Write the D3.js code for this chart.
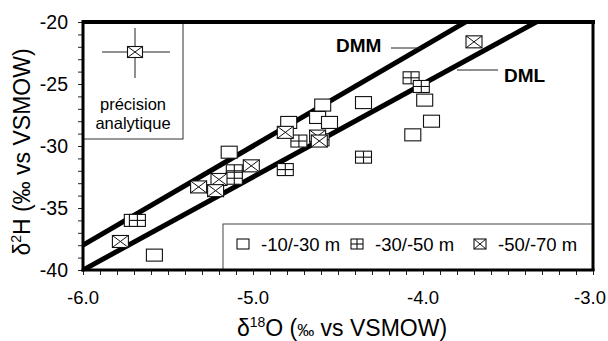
<!DOCTYPE html>
<html>
<head>
<meta charset="utf-8">
<script src="https://cdn.jsdelivr.net/npm/d3@7"></script>
<style>
  body { margin: 0; background: #fff; }
  svg { font-family: "Liberation Sans", Arial, sans-serif; }
</style>
</head>
<body>
<div id="chart"></div>
<script>
// Data: [d18O, d2H]
const shallow = [ // -10/-30 m
  [-5.58, -38.8], [-5.71, -36.0], [-5.14, -30.5], [-4.59, -26.7], [-4.35, -26.5],
  [-4.62, -27.7], [-4.55, -28.1], [-4.79, -28.1], [-3.99, -26.3], [-3.95, -28.0],
  [-4.06, -29.1]
]
const middle = [ // -30/-50 m
  [-5.68, -36.0], [-5.11, -32.0], [-5.11, -32.6], [-4.73, -29.6], [-4.35, -30.9],
  [-4.81, -31.9], [-4.07, -24.5], [-4.01, -25.2], [-4.60, -29.5]
]
const deep = [ // -50/-70 m
  [-5.78, -37.7], [-5.01, -31.6], [-5.20, -32.7], [-5.32, -33.3], [-5.22, -33.6],
  [-4.81, -28.9], [-4.62, -29.2], [-4.61, -29.6], [-3.70, -21.6]
]
const xTicks = [-6.0, -5.0, -4.0, -3.0]
const yTicks = [-20, -25, -30, -35, -40]
// meteoric lines: slope, intercept
const dmm = { name: "DMM", slope: 8, intercept: 10 }
const dml = { name: "DML", slope: 7.5, intercept: 5 }
const legendItems = [
  { type: "open", label: "-10/-30 m" },
  { type: "grid", label: "-30/-50 m" },
  { type: "cross", label: "-50/-70 m" }
]

const width = 608
const height = 341
const svg = d3.select("#chart").append("svg").attr("width", width).attr("height", height)

const x = d3.scaleLinear().domain([-6, -3]).range([83, 593])
const y = d3.scaleLinear().domain([-40, -20]).range([270, 22])

// clip for the lines
svg.append("clipPath").attr("id", "plot")
  .append("rect").attr("x", 83).attr("y", 22).attr("width", 510).attr("height", 248)

// Marker drawing
function marker(g, type, w, h) {
  g.append("rect")
    .attr("x", -w / 2).attr("y", -h / 2).attr("width", w).attr("height", h)
    .attr("fill", "#fff").attr("stroke", "#111").attr("stroke-width", 1.1)
  if (type === "grid") {
    g.append("line").attr("x1", 0).attr("x2", 0).attr("y1", -h / 2).attr("y2", h / 2)
      .attr("stroke", "#111").attr("stroke-width", 1.1)
    g.append("line").attr("x1", -w / 2).attr("x2", w / 2).attr("y1", 0).attr("y2", 0)
      .attr("stroke", "#111").attr("stroke-width", 1.1)
  }
  if (type === "cross") {
    g.append("line").attr("x1", -w / 2).attr("x2", w / 2).attr("y1", -h / 2).attr("y2", h / 2)
      .attr("stroke", "#111").attr("stroke-width", 1)
    g.append("line").attr("x1", -w / 2).attr("x2", w / 2).attr("y1", h / 2).attr("y2", -h / 2)
      .attr("stroke", "#111").attr("stroke-width", 1)
  }
}

// Inset box (analytical precision)
svg.append("rect").attr("x", 83).attr("y", 22).attr("width", 100).attr("height", 117)
  .attr("fill", "none").attr("stroke", "#333").attr("stroke-width", 1)
svg.append("line").attr("x1", 102).attr("x2", 170).attr("y1", 52).attr("y2", 52)
  .attr("stroke", "#222").attr("stroke-width", 1)
svg.append("line").attr("x1", 135).attr("x2", 135).attr("y1", 28).attr("y2", 78)
  .attr("stroke", "#222").attr("stroke-width", 1)
marker(svg.append("g").attr("transform", "translate(135,52)"), "cross", 15, 11)
svg.append("text").attr("x", 133).attr("y", 110).attr("text-anchor", "middle")
  .attr("font-size", 16.5).text("précision")
svg.append("text").attr("x", 133).attr("y", 129).attr("text-anchor", "middle")
  .attr("font-size", 16.5).text("analytique")

// Legend box
svg.append("rect").attr("x", 223).attr("y", 224).attr("width", 370).attr("height", 46)
  .attr("fill", "#fff").attr("stroke", "#444").attr("stroke-width", 1)
const legendX = [243, 357, 480]
legendItems.forEach((d, i) => {
  const g = svg.append("g").attr("transform", `translate(${legendX[i]},244)`)
  marker(g, d.type, 12, 10)
  svg.append("text").attr("x", legendX[i] + 18).attr("y", 251)
    .attr("font-size", 18.5).text(d.label)
})

// Meteoric water lines
const lineG = svg.append("g").attr("clip-path", "url(#plot)")
;[dmm, dml].forEach((l) => {
  lineG.append("line")
    .attr("x1", x(-6)).attr("y1", y(l.slope * -6 + l.intercept))
    .attr("x2", x(-3)).attr("y2", y(l.slope * -3 + l.intercept))
    .attr("stroke", "#000").attr("stroke-width", 5)
})

// Points
const series = [
  { type: "open", data: shallow },
  { type: "grid", data: middle },
  { type: "cross", data: deep }
]
series.forEach((s) => {
  s.data.forEach((p) => {
    marker(svg.append("g").attr("transform", `translate(${x(p[0])},${y(p[1])})`), s.type, 16, 12)
  })
})

// Line labels with leaders
svg.append("text").attr("x", 336).attr("y", 52).attr("font-size", 19).attr("font-weight", "bold").text(dmm.name)
svg.append("line").attr("x1", 391).attr("x2", 421).attr("y1", 48).attr("y2", 48).attr("stroke", "#222").attr("stroke-width", 1)
svg.append("text").attr("x", 504).attr("y", 82).attr("font-size", 19).attr("font-weight", "bold").text(dml.name)
svg.append("line").attr("x1", 457).attr("x2", 498).attr("y1", 70).attr("y2", 70).attr("stroke", "#222").attr("stroke-width", 1)

// Axes
const xAxis = svg.append("g").attr("transform", "translate(0,270)")
  .call(d3.axisBottom(x).tickValues(d3.range(-6, -2.95, 0.1)).tickSize(5).tickFormat(""))
xAxis.selectAll("line").attr("stroke", "#222").attr("stroke-width", 1)
xAxis.select(".domain").remove()
const yAxis = svg.append("g").attr("transform", "translate(83,0)")
  .call(d3.axisLeft(y).tickValues(d3.range(-40, -19.5, 1)).tickSize(5).tickFormat(""))
yAxis.selectAll("line").attr("stroke", "#222").attr("stroke-width", 1)
yAxis.select(".domain").remove()

svg.selectAll(".xlab").data(xTicks).enter().append("text")
  .attr("x", (d) => Math.min(x(d), 590)).attr("y", 304).attr("text-anchor", "middle")
  .attr("font-size", 18.5).text((d) => d.toFixed(1))
svg.selectAll(".ylab").data(yTicks).enter().append("text")
  .attr("x", 68).attr("y", (d) => y(d) + 7).attr("text-anchor", "end")
  .attr("font-size", 19.5).text((d) => d)

// Frame: thick borders
svg.append("line").attr("x1", 82).attr("x2", 595).attr("y1", 22).attr("y2", 22).attr("stroke", "#000").attr("stroke-width", 4)
svg.append("line").attr("x1", 593).attr("x2", 593).attr("y1", 20).attr("y2", 271).attr("stroke", "#000").attr("stroke-width", 3)
svg.append("line").attr("x1", 83).attr("x2", 83).attr("y1", 20).attr("y2", 271.5).attr("stroke", "#000").attr("stroke-width", 3)
svg.append("line").attr("x1", 81.5).attr("x2", 594.5).attr("y1", 270).attr("y2", 270).attr("stroke", "#000").attr("stroke-width", 3)

// Axis titles
const xt = svg.append("text").attr("x", 342).attr("y", 336).attr("text-anchor", "middle").attr("font-size", 23)
xt.append("tspan").text("δ")
xt.append("tspan").attr("font-size", 14).attr("dy", -9).text("18")
xt.append("tspan").attr("dy", 9).text("O (")
xt.append("tspan").attr("font-size", 17).text("‰")
xt.append("tspan").text(" vs VSMOW)")

const yt = svg.append("text").attr("transform", "translate(30,152) rotate(-90)")
  .attr("text-anchor", "middle").attr("font-size", 23)
yt.append("tspan").text("δ")
yt.append("tspan").attr("font-size", 14).attr("dy", -9).text("2")
yt.append("tspan").attr("dy", 9).text("H (‰ vs VSMOW)")
</script>
</body>
</html>
